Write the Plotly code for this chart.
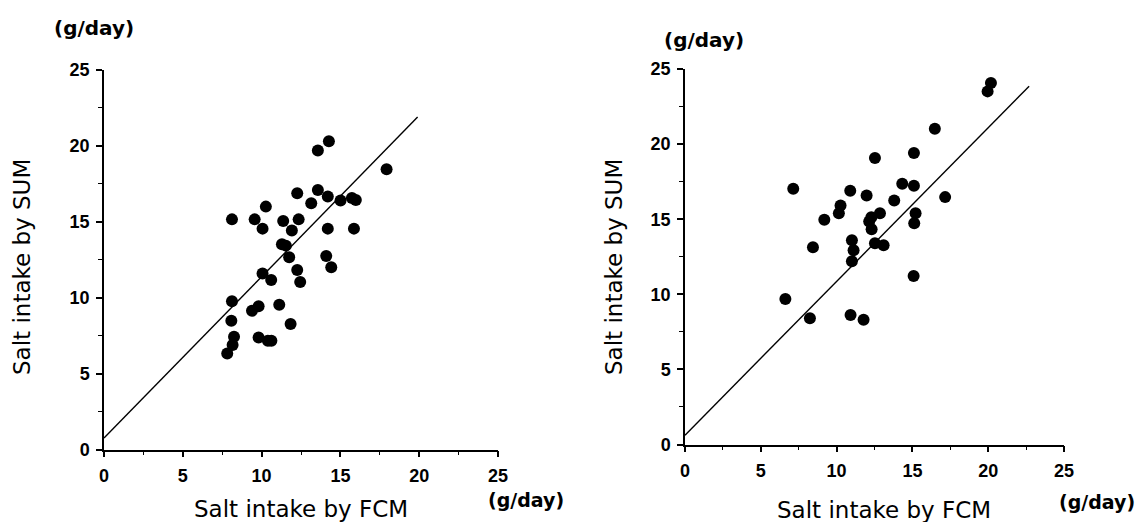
import plotly.graph_objects as go

# Left panel data (FCM vs SUM)
left_x = [8.12, 9.56, 10.06, 10.27, 11.37, 11.92, 12.26, 12.35, 13.15, 13.57, 14.27, 13.57, 14.2,
          15.01, 15.73, 15.98, 17.93, 14.2, 15.86, 11.29, 11.54, 11.75, 14.1, 14.42, 12.26, 12.45,
          10.06, 10.61, 8.12, 9.39, 9.81, 11.12, 11.84, 8.08, 8.25, 8.16, 7.82, 9.81, 10.4, 10.62]
left_y = [15.16, 15.16, 14.55, 16.0, 15.05, 14.42, 16.88, 15.16, 16.22, 19.69, 20.31, 17.1, 16.66,
          16.4, 16.57, 16.44, 18.46, 14.55, 14.55, 13.52, 13.43, 12.66, 12.75, 12.0, 11.82, 11.03,
          11.6, 11.16, 9.76, 9.14, 9.43, 9.54, 8.26, 8.48, 7.43, 6.88, 6.33, 7.38, 7.16, 7.16]
left_line_x = [0, 19.9]
left_line_y = [0.75, 21.9]

# Right panel data
right_x = [20.18, 19.96, 16.48, 15.1, 12.53, 14.33, 15.1, 17.16, 7.14, 10.9, 11.98, 13.8, 10.26,
           10.15, 9.19, 12.86, 12.29, 12.15, 12.31, 15.21, 15.12, 8.44, 11.01, 11.12, 11.01, 12.53,
           13.1, 15.08, 6.62, 8.24, 10.92, 11.78]
right_y = [24.07, 23.51, 21.02, 19.4, 19.07, 17.36, 17.22, 16.47, 17.02, 16.89, 16.58, 16.24, 15.91,
           15.4, 14.96, 15.4, 15.13, 14.84, 14.33, 15.4, 14.73, 13.13, 13.6, 12.93, 12.2, 13.4,
           13.27, 11.22, 9.69, 8.4, 8.62, 8.31]
right_line_x = [0, 22.7]
right_line_y = [0.62, 23.85]

tick_vals = [0, 5, 10, 15, 20, 25]
tick_text = ["0", "5", "10", "15", "20", "25"]
unit_label = "(g/day)"
x_title = "Salt intake by FCM"
y_title = "Salt intake by SUM"

W, H = 1140, 522
TICK_FONT = "Liberation Sans"
TITLE_FONT = "DejaVu Sans"

fig = go.Figure()

for xs, ys, lx, ly, xa, ya in [
    (left_x, left_y, left_line_x, left_line_y, "x", "y"),
    (right_x, right_y, right_line_x, right_line_y, "x2", "y2"),
]:
    fig.add_trace(go.Scatter(x=lx, y=ly, mode="lines", line=dict(color="black", width=1.4),
                             xaxis=xa, yaxis=ya, showlegend=False, hoverinfo="skip"))
    fig.add_trace(go.Scatter(x=xs, y=ys, mode="markers", marker=dict(color="black", size=12),
                             xaxis=xa, yaxis=ya, showlegend=False, cliponaxis=False))

def axis_common(standoff):
    return dict(range=[0, 25], tickvals=tick_vals, ticktext=tick_text, showline=True,
                linecolor="black", linewidth=1.5, ticks="outside", ticklen=6, tickwidth=1.5,
                tickcolor="black", showgrid=False, zeroline=False, automargin=False,
                ticklabelstandoff=standoff,
                tickfont=dict(family=TICK_FONT, size=18, color="black", weight="bold"),
                minor=dict(dtick=2.5, tick0=0, ticks="outside", ticklen=4, tickcolor="black", tickwidth=1.2),
                fixedrange=True)

def px_x(px):
    return px / W

def px_y(py):
    return 1 - py / H

fig.update_layout(
    width=W, height=H, margin=dict(l=0, r=0, t=0, b=0, autoexpand=False),
    paper_bgcolor="white", plot_bgcolor="white",
    xaxis=dict(domain=[px_x(104), px_x(498)], anchor="y", **axis_common(3)),
    yaxis=dict(domain=[px_y(449.5), px_y(70)], anchor="x", **axis_common(3)),
    xaxis2=dict(domain=[px_x(685), px_x(1064)], anchor="y2", **axis_common(3)),
    yaxis2=dict(domain=[px_y(444.5), px_y(69)], anchor="x2", **axis_common(3)),
)

def ann(text, cx, cy, size, angle=0, bold=False):
    fig.add_annotation(text=text, x=px_x(cx), y=px_y(cy), xref="paper", yref="paper",
                       showarrow=False, textangle=angle, xanchor="center", yanchor="middle",
                       font=dict(family=TITLE_FONT, size=size, color="black",
                                 weight="bold" if bold else "normal"))

# units
ann(unit_label, 94, 28, 20, bold=True)
ann(unit_label, 704, 40, 20, bold=True)
ann(unit_label, 526, 500, 19, bold=True)
ann(unit_label, 1097, 502, 19, bold=True)
# axis titles
ann(x_title, 301, 509, 23)
ann(x_title, 884, 510, 23)
ann(y_title, 22, 267, 23, angle=-90)
ann(y_title, 614, 267, 23, angle=-90)

fig.write_html("out.html", config={"displayModeBar": False},
               post_script="document.body.style.margin='0';document.body.style.overflow='hidden';")
